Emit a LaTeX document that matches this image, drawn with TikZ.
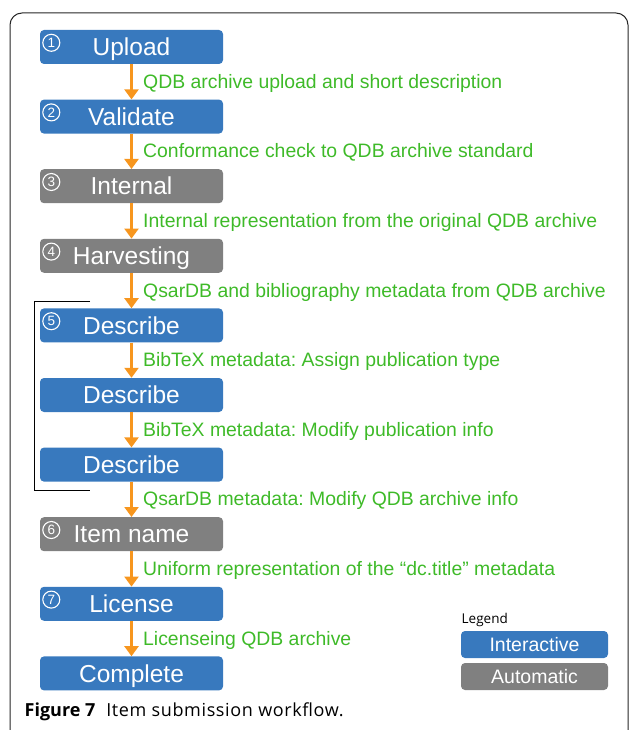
\documentclass[tikz,border=0pt]{standalone}
\usepackage{fontspec}
\setmainfont{Liberation Sans}
\newfontfamily\capfont{Open Sans}
\newfontfamily\capwide{Open Sans}[LetterSpace=3.5]
\usetikzlibrary{arrows.meta,calc}
\frenchspacing

\definecolor{ablue}{RGB}{56,121,190}
\definecolor{agray}{RGB}{128,128,128}
\definecolor{aorange}{RGB}{247,150,30}
\definecolor{agreen}{RGB}{62,186,40}

\tikzset{
  stepbase/.style={rounded corners=4pt, minimum width=183pt, minimum height=34pt,
    inner sep=0pt, text=white, text height=17.5pt, text depth=0pt,
    font=\fontsize{24.5}{24.5}\selectfont},
  interbox/.style={stepbase, fill=ablue},
  autobox/.style={stepbase, fill=agray},
  legbox/.style={rounded corners=4pt, minimum width=147pt, minimum height=27pt,
    inner sep=0pt, text=white, text height=14pt, text depth=0pt,
    font=\fontsize{19.5}{19.5}\selectfont},
  numtag/.style={circle, draw=white, line width=1.1pt, minimum size=17pt,
    inner sep=0pt, text=white, font=\fontsize{13.5}{13.5}\selectfont},
  flow/.style={draw=aorange, line width=2.2pt, -{Triangle[width=14pt,length=10pt]}},
  steplabel/.style={anchor=west, text=agreen, inner sep=0pt,
    text height=13.9pt, text depth=0pt, font=\fontsize{19.4}{19.4}\selectfont},
}

\begin{document}
\begin{tikzpicture}[x=1pt, y=-1pt]
\useasboundingbox (0,0) rectangle (629,730);
\begin{scope}
  \clip (0,0) rectangle (629,730);
  \draw[line width=1pt, draw=black!85, rounded corners=12pt] (10,13) rectangle (628,760);
\end{scope}

% workflow steps
\node[interbox] (s1) at (131.5,47.0) {Upload};
\node[interbox] (s2) at (131.5,116.6) {Validate};
\node[autobox]  (s3) at (131.5,186.2) {Internal};
\node[autobox]  (s4) at (131.5,255.8) {Harvesting};
\node[interbox] (s5) at (131.5,325.4) {Describe};
\node[interbox] (s6) at (131.5,395.0) {Describe};
\node[interbox] (s7) at (131.5,464.6) {Describe};
\node[autobox]  (s8) at (131.5,534.2) {Item name};
\node[interbox] (s9) at (131.5,603.8) {License};
\node[interbox] (s10) at (131.5,673.4) {Complete};

% step numbers
\foreach \s/\n in {s1/1,s2/2,s3/3,s4/4,s5/5,s8/6,s9/7}
  \node[numtag] (num\s) at ($(\s.north west)+(11.5,13)$) {\n};

% connectors and their descriptions
\foreach \a/\b/\t in {
  s1/s2/{QDB archive upload and short description},
  s2/s3/{Conformance check to QDB archive standard},
  s3/s4/{Internal representation from the original QDB archive},
  s4/s5/{QsarDB and bibliography metadata from QDB archive},
  s5/s6/{BibTeX metadata: Assign publication type},
  s6/s7/{BibTeX metadata: Modify publication info},
  s7/s8/{QsarDB metadata: Modify QDB archive info},
  s8/s9/{Uniform representation of the “dc.title” metadata},
  s9/s10/{Licenseing QDB archive}}
{
  \draw[flow] (\a.south) -- (\b.north);
  \node[steplabel] (lab\a) at ($($(\a.south)!0.5!(\b.north)$)+(11.5,-0.5)$) {\t};
}

% bracket grouping the describe steps
\coordinate (brtop) at (90,301);
\coordinate (brbot) at (90,490);
\draw[line width=0.9pt] (brtop) -- (34.5,301) -- (34.5,490) -- (brbot);

% legend
\node[anchor=west, inner sep=0pt, font=\capfont\fontsize{13.5}{13.5}\selectfont] (legtitle) at (461.5,620) {Legend};
\node[legbox, fill=ablue] (leg1) at (534.5,644.5) {Interactive};
\node[legbox, fill=agray] (leg2) at (534.5,676.5) {Automatic};

% caption
\node[anchor=base west, inner sep=0pt, font=\fontsize{18}{18}\selectfont] (caption) at (24.5,716.5)
  {\capfont\bfseries Figure 7\hspace{0.6em}\capwide\mdseries Item submission workflow.};
\end{tikzpicture}
\end{document}
